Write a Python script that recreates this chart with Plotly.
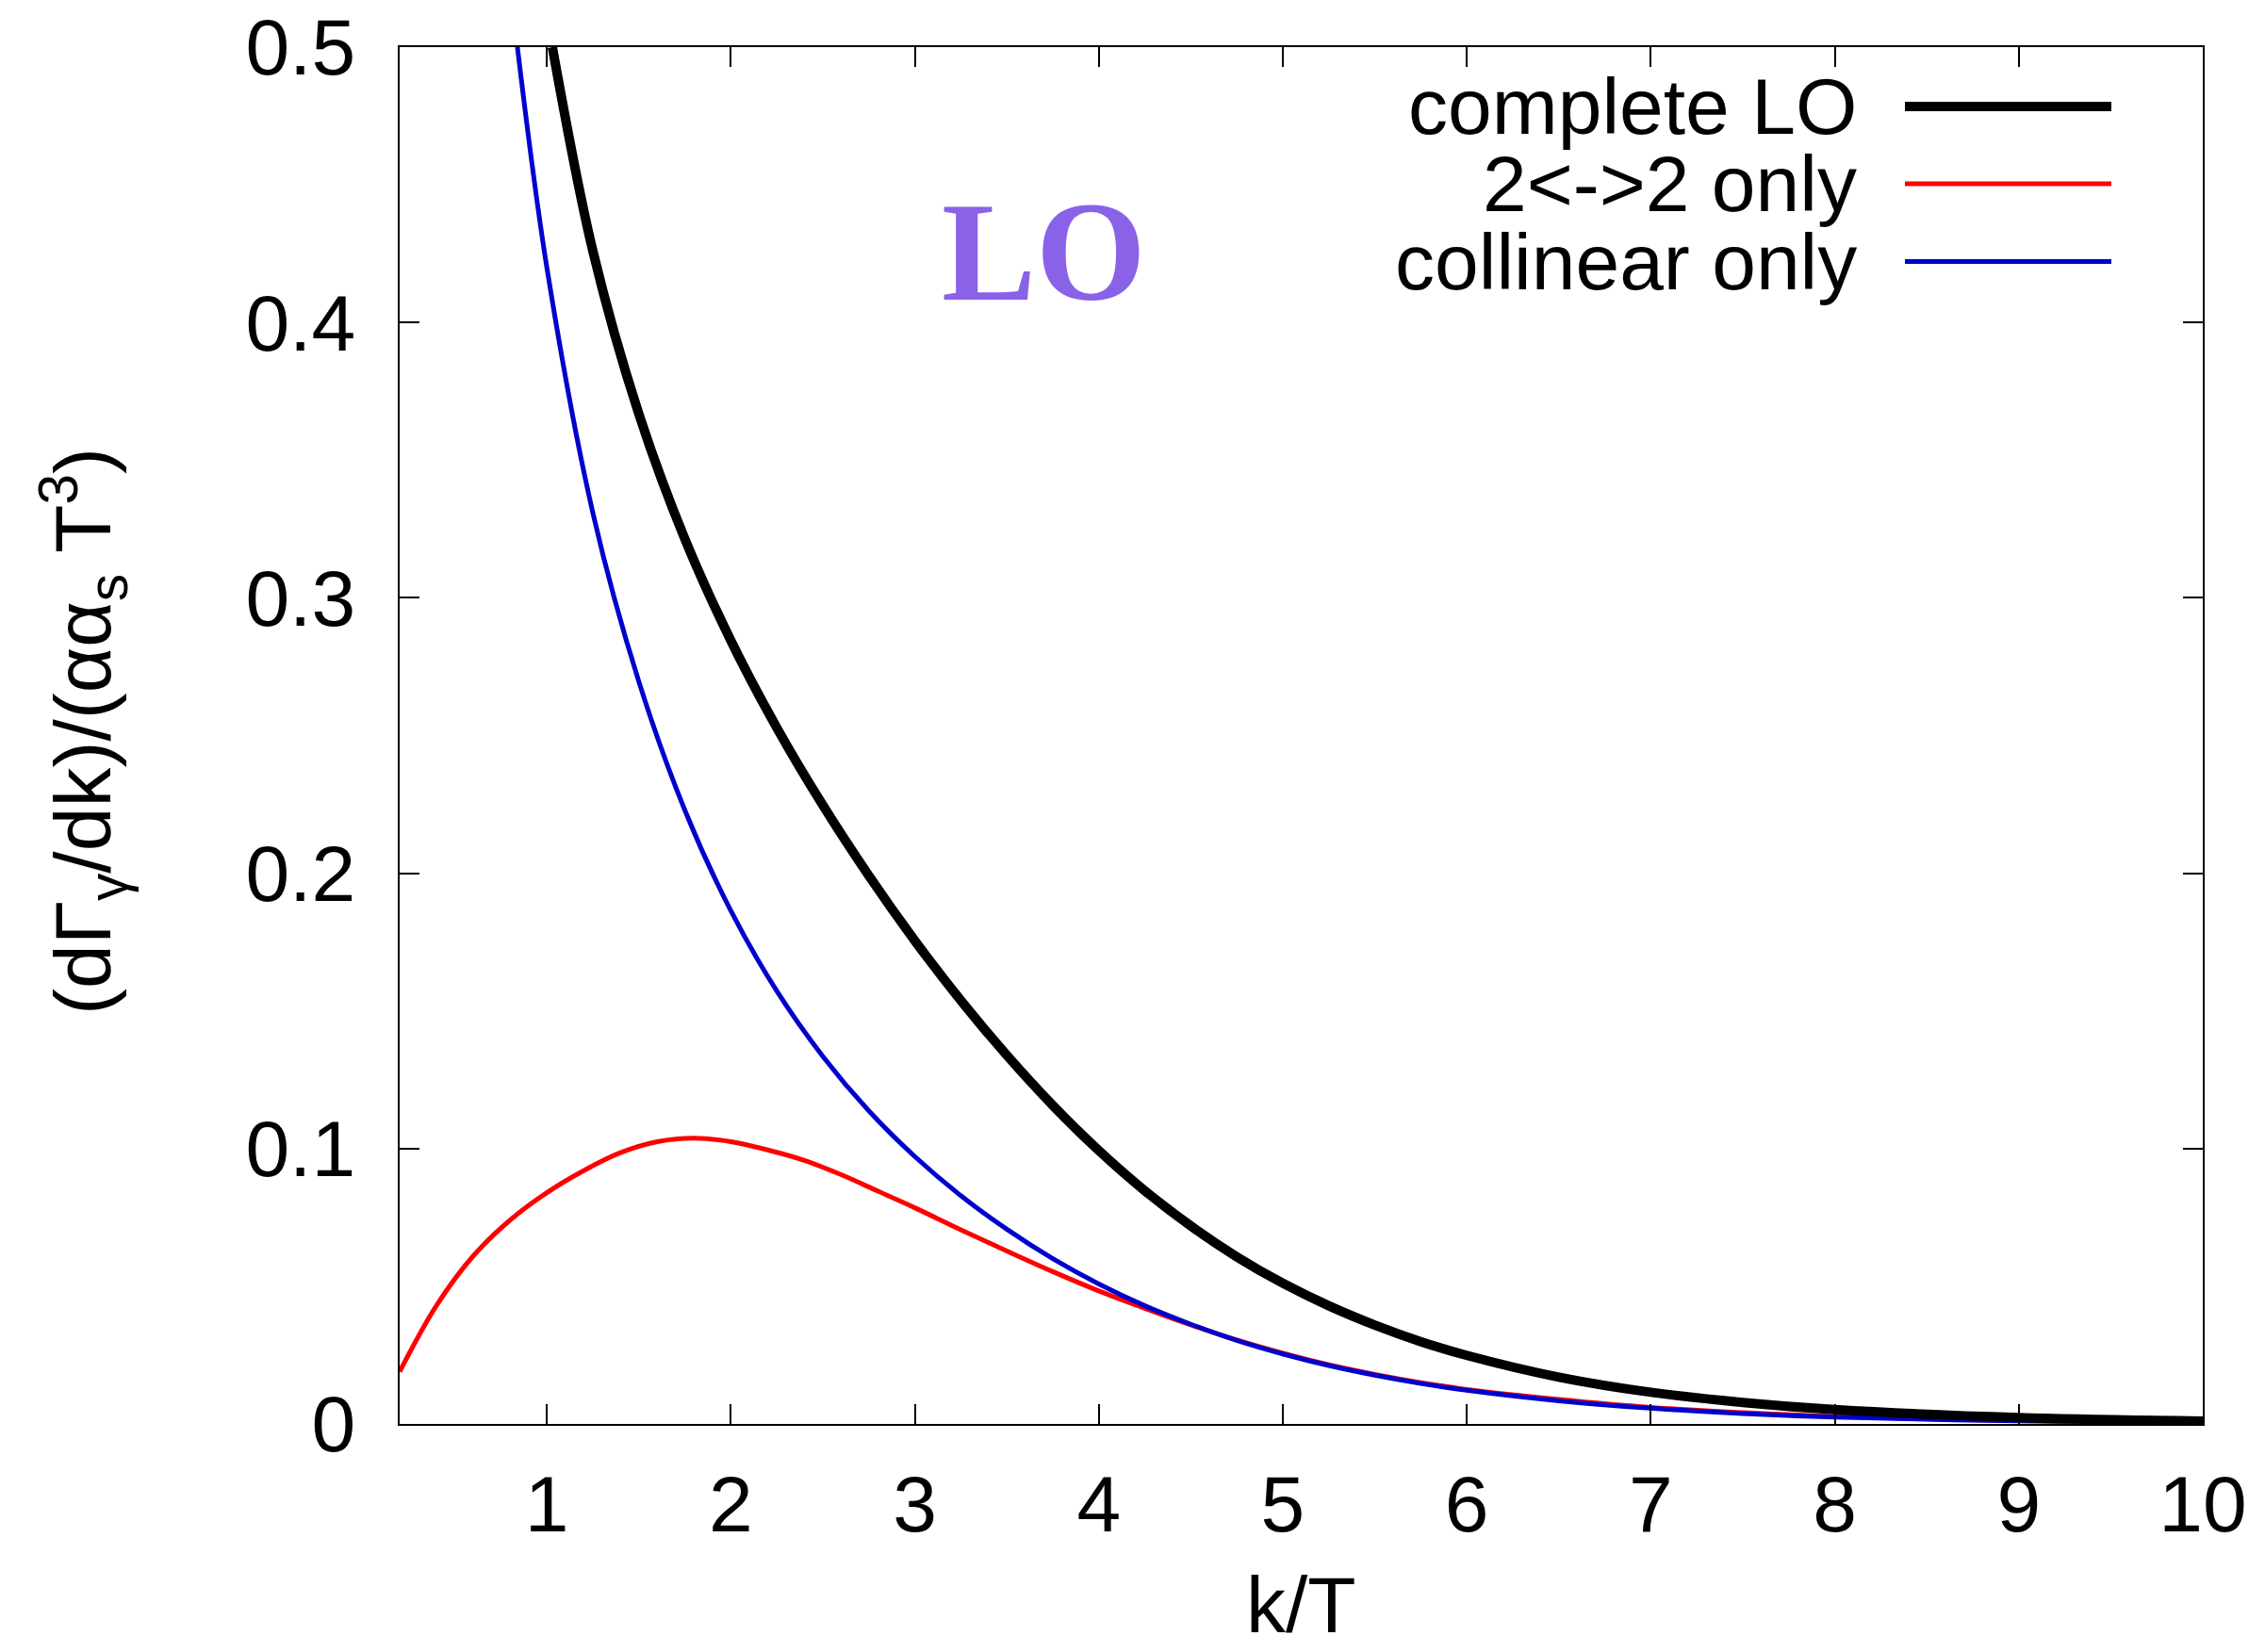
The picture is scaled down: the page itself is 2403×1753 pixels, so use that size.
import plotly.graph_objects as go

# ---- data ----
k_full = [1.03, 1.25, 1.5, 1.75, 2.0, 2.25, 2.5, 2.75, 3.0, 3.25, 3.5, 3.75, 4.0, 4.25, 4.5, 4.75, 5.0, 5.25, 5.5, 5.75, 6.0, 6.5, 7.0, 7.5, 8.0, 9.0, 10.0]
y_full = [0.5, 0.426, 0.3668, 0.3214, 0.2845, 0.2528, 0.2247, 0.1991, 0.1755, 0.1538, 0.1339, 0.1157, 0.0993, 0.0847, 0.0719, 0.0607, 0.0511, 0.0429, 0.0359, 0.0299, 0.0249, 0.017, 0.0115, 0.0078, 0.0052, 0.0023, 0.00105]

k_22 = [0.2, 0.4, 0.6, 0.8, 1.0, 1.2, 1.4, 1.6, 1.8, 2.0, 2.2, 2.4, 2.6, 2.8, 3.0, 3.25, 3.5, 3.75, 4.0, 4.25, 4.5, 4.75, 5.0, 5.25, 5.5, 5.75, 6.0, 6.5, 7.0, 7.5, 8.0, 9.0, 10.0]
y_22 = [0.019, 0.043, 0.061, 0.074, 0.084, 0.092, 0.0985, 0.1025, 0.1038, 0.1025, 0.0995, 0.0957, 0.0905, 0.0845, 0.0785, 0.0705, 0.0628, 0.0553, 0.0483, 0.042, 0.036, 0.0305, 0.0257, 0.0215, 0.018, 0.015, 0.0125, 0.0089, 0.006, 0.0041, 0.0027, 0.0012, 0.0006]

k_col = [0.84, 1.0, 1.25, 1.5, 1.75, 2.0, 2.25, 2.5, 2.75, 3.0, 3.25, 3.5, 3.75, 4.0, 4.25, 4.5, 4.75, 5.0, 5.25, 5.5, 5.75, 6.0, 6.5, 7.0, 7.5, 8.0, 9.0, 10.0]
y_col = [0.5, 0.42, 0.3309, 0.2696, 0.2229, 0.1864, 0.1572, 0.1335, 0.1137, 0.0971, 0.0829, 0.0707, 0.06, 0.0508, 0.0429, 0.0362, 0.0303, 0.0254, 0.0212, 0.0177, 0.0147, 0.0122, 0.0084, 0.0057, 0.0038, 0.0025, 0.0011, 0.0005]

series_names = ["complete LO", "2<->2 only", "collinear only"]
series_colors = ["#000000", "#ff0000", "#0000cc"]
series_widths = [10, 5, 5]

x_ticks = [1, 2, 3, 4, 5, 6, 7, 8, 9, 10]
y_ticks = [0, 0.1, 0.2, 0.3, 0.4, 0.5]
y_ticktext = ["0", "0.1", "0.2", "0.3", "0.4", "0.5"]

FONT = "Liberation Sans, Arial, sans-serif"
FS = 84

fig = go.Figure()
data = [(k_full, y_full), (k_22, y_22), (k_col, y_col)]
for idx in [1, 2, 0]:
    xs, ys = data[idx]
    fig.add_trace(go.Scatter(x=xs, y=ys, mode="lines", name=series_names[idx],
                             line=dict(color=series_colors[idx], width=series_widths[idx],
                                       shape="spline", smoothing=1.0),
                             showlegend=False))

W, H = 2403, 1753
ML, MR, MT, MB = 424, 66, 50, 242
PW = W - ML - MR
PH = H - MT - MB

def px(X):
    return (X - ML) / PW

def py(Y):
    return (H - MB - Y) / PH

# manual legend (text right-aligned, sample to the right, as in the reference)
legend_rows = [113, 195, 277.5]
for name, col, wdt, Y in zip(series_names, series_colors, series_widths, legend_rows):
    fig.add_annotation(xref="paper", yref="paper", x=px(1972), y=py(Y), text=name,
                       showarrow=False, xanchor="right", yanchor="middle",
                       font=dict(family=FONT, size=FS, color="black"))
    fig.add_shape(type="line", xref="paper", yref="paper", x0=px(2021), x1=px(2240),
                  y0=py(Y), y1=py(Y), line=dict(color=col, width=wdt))

# LO label
fig.add_annotation(xref="x", yref="y", x=3.70, y=0.4259, text="<b>LO</b>", showarrow=False,
                   xanchor="center", yanchor="middle",
                   font=dict(family="Liberation Serif, Times New Roman, serif", size=150, color="#8A62E8"))

# axis titles
fig.add_annotation(xref="paper", yref="paper", x=0.5, y=py(1752), text="k/T", showarrow=False,
                   xanchor="center", yanchor="bottom", font=dict(family=FONT, size=FS, color="black"))
fig.add_annotation(xref="paper", yref="paper", x=px(88), y=py(776),
                   text="(dΓ<sub>γ</sub>/dk)/(αα<sub>s</sub> T<sup>3</sup>)", showarrow=False,
                   textangle=-90, xanchor="center", yanchor="middle",
                   font=dict(family=FONT, size=FS, color="black"))

fig.update_layout(
    width=W, height=H,
    margin=dict(l=ML, r=MR, t=MT, b=MB, pad=0),
    paper_bgcolor="white", plot_bgcolor="white",
    showlegend=False,
    font=dict(family=FONT, size=FS, color="black"),
)
fig.update_xaxes(range=[0.2, 10], tickvals=x_ticks, ticktext=[str(v) for v in x_ticks],
                 ticks="inside", ticklen=21, tickwidth=2, tickcolor="black",
                 showline=True, linewidth=2, linecolor="black", mirror="ticks",
                 showgrid=False, zeroline=False, ticklabelstandoff=11, automargin=False,
                 tickfont=dict(family=FONT, size=FS, color="black"))
fig.update_yaxes(range=[0, 0.5], tickvals=y_ticks, ticktext=y_ticktext,
                 ticks="inside", ticklen=21, tickwidth=2, tickcolor="black",
                 showline=True, linewidth=2, linecolor="black", mirror="ticks",
                 showgrid=False, zeroline=False, ticklabelstandoff=28, automargin=False,
                 tickfont=dict(family=FONT, size=FS, color="black"))

fig.write_html("out.html", config={"displayModeBar": False},
               post_script="document.body.style.margin='0';document.body.style.padding='0';")
